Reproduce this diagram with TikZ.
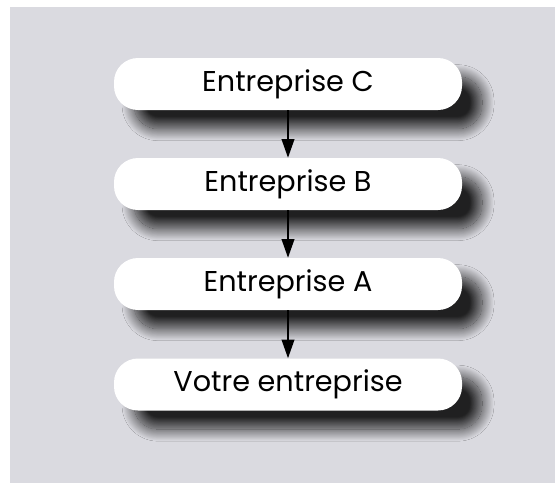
\documentclass[tikz,border=0pt]{standalone}
\usepackage{fontspec}
\setmainfont{Poppins}
\usetikzlibrary{arrows.meta}
\usetikzlibrary{shadows.blur}

\definecolor{fondgris}{RGB}{218,218,224}

\tikzset{
  etape/.style={rectangle, rounded corners=18pt, fill=white, draw=none,
    minimum width=261pt, minimum height=39pt, inner sep=0pt,
    font=\fontsize{21.5}{24}\selectfont,
    blur shadow={shadow xshift=15pt, shadow yshift=-14pt, shadow blur radius=9pt,
      shadow blur steps=30, shadow opacity=85}},
  fleche/.style={line width=1.3pt, -{Triangle[length=14pt, width=9.5pt]}}
}

\begin{document}
\begin{tikzpicture}[x=0.75pt,y=0.75pt,yscale=-1,xscale=1]
\useasboundingbox (0,0) rectangle (555,483);

%Shape: Rectangle [id:fond]
\fill [fondgris] (10,7) rectangle (555,483);

% Text Node
\node [etape] (entC) at (288,84) {Entreprise C};
% Text Node
\node [etape] (entB) at (288,184) {Entreprise B};
% Text Node
\node [etape] (entA) at (288,284) {Entreprise A};
% Text Node
\node [etape] (votre) at (288,384.5) {Votre entreprise};

%Straight Lines
\draw [fleche] (entC) -- (entB);
\draw [fleche] (entB) -- (entA);
\draw [fleche] (entA) -- (votre);

\end{tikzpicture}
\end{document}
